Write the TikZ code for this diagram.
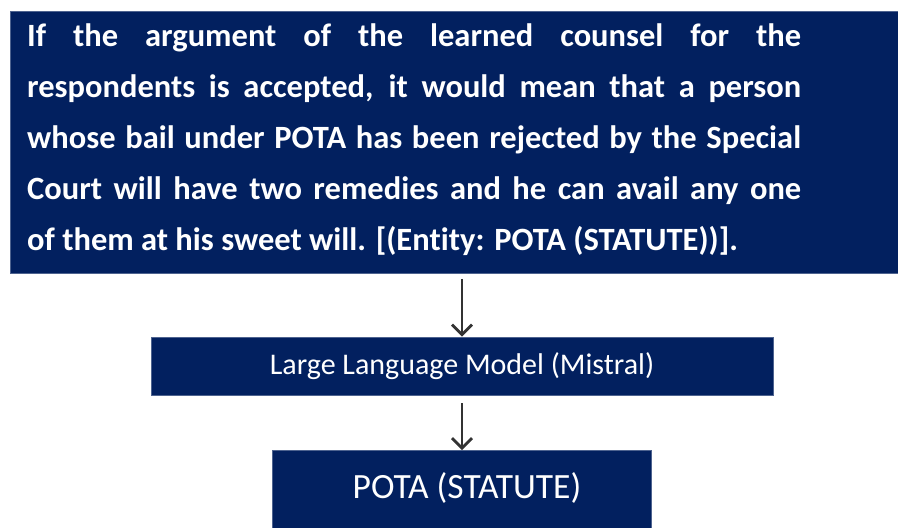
\documentclass[tikz,border=0pt]{standalone}
\usepackage{fontspec}
\setmainfont{Carlito}[Ligatures=NoCommon]
\usetikzlibrary{arrows.meta}
\definecolor{navy}{HTML}{02205F}
\definecolor{arrowgray}{HTML}{333333}
\tikzset{
  navybox/.style={fill=navy, draw=navy!70!white, line width=0.8pt, inner sep=0pt},
  boxtext/.style={text=white, inner sep=0pt},
  flowarrow/.style={draw=arrowgray, line width=2.8pt, -{Straight Barb[length=10pt,width=20pt,line width=2.8pt]}}
}
\begin{document}
\begin{tikzpicture}[x=1pt,y=1pt]
\useasboundingbox (0,0) rectangle (898,-528);
\node[navybox, anchor=north west, minimum width=890pt, minimum height=262pt] (top) at (10,-11) {};
\node[boxtext, anchor=north west, text width=774pt, align=justify,
      font=\fontsize{32.5}{51}\selectfont\bfseries] (toptext) at (27,-23)
  {If the argument of the learned counsel for the\linebreak
   respondents is accepted, it would mean that a person\linebreak
   whose bail under POTA has been rejected by the Special\linebreak
   Court will have two remedies and he can avail any one\linebreak
   of them at his sweet will. [(Entity: POTA (STATUTE))].};
\node[navybox, minimum width=622pt, minimum height=58pt] (mid) at (462,-366) {};
\node[boxtext, font=\fontsize{30}{34}\selectfont] (midtext) at (mid.center) {Large Language Model (Mistral)};
\node[navybox, anchor=north, minimum width=379pt, minimum height=86pt] (bot) at (462,-450) {};
\node[boxtext, font=\fontsize{35.5}{40}\selectfont] (bottext) at (467,-488) {POTA (STATUTE)};
\draw[flowarrow, shorten <=5pt] (top.south -| mid.north) -- (mid.north);
\draw[flowarrow, shorten <=8pt] (mid.south) -- (bot.north);
\end{tikzpicture}
\end{document}
